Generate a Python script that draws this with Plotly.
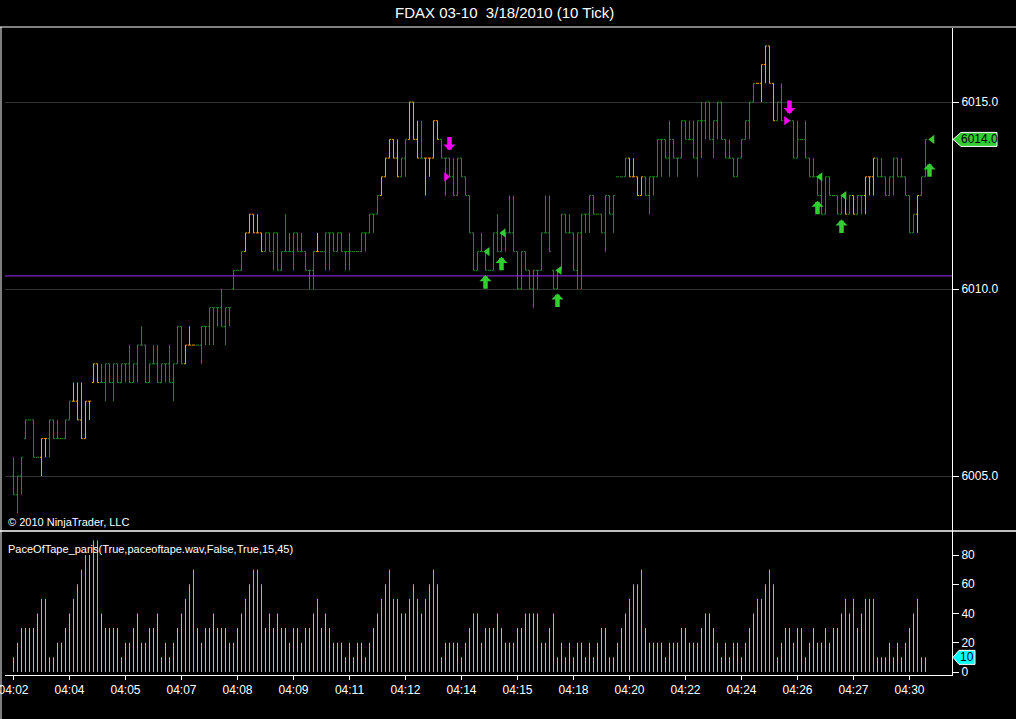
import plotly.graph_objects as go

# FDAX 03-10, 3/18/2010, 10 tick bars (one entry per bar)
opens = [6005.0, 6004.5, 6005.0, 6006.0, 6006.5, 6006.5, 6005.5, 6005.5, 6006.0, 6006.0,
         6006.5, 6006.0, 6006.0, 6006.0, 6006.5, 6007.0, 6007.0, 6006.5, 6006.0, 6007.0,
         6007.5, 6008.0, 6007.5, 6007.5, 6008.0, 6007.5, 6008.0, 6007.5, 6008.0, 6008.0,
         6007.5, 6008.0, 6008.5, 6008.5, 6007.5, 6008.0, 6008.0, 6007.5, 6008.0, 6008.0,
         6007.5, 6008.0, 6009.0, 6008.0, 6008.5, 6008.5, 6008.5, 6008.5, 6009.0, 6009.0,
         6009.5, 6009.5, 6009.5, 6009.0, 6009.5, 6010.0, 6010.5, 6010.5, 6011.0, 6011.5,
         6012.0, 6011.5, 6011.5, 6011.0, 6011.5, 6011.0, 6011.5, 6010.5, 6011.0, 6011.0,
         6011.0, 6011.5, 6011.0, 6011.0, 6010.5, 6010.5, 6011.0, 6011.0, 6011.0, 6011.5,
         6011.5, 6011.0, 6011.5, 6011.0, 6011.0, 6011.0, 6011.0, 6011.0, 6011.5, 6011.5,
         6012.0, 6012.0, 6012.5, 6013.0, 6013.5, 6014.0, 6013.5, 6013.0, 6013.5, 6014.0,
         6015.0, 6014.0, 6013.5, 6013.5, 6013.5, 6013.5, 6014.5, 6014.0, 6013.5, 6013.5,
         6013.0, 6012.5, 6013.5, 6013.0, 6012.5, 6011.5, 6010.5, 6011.0, 6011.0, 6010.5,
         6010.5, 6011.5, 6011.0, 6011.5, 6011.5, 6011.5, 6011.0, 6010.0, 6011.0, 6010.5,
         6010.0, 6010.5, 6010.5, 6011.5, 6011.5, 6010.5, 6010.0, 6010.5, 6012.0, 6011.5,
         6011.5, 6010.5, 6011.5, 6012.0, 6012.0, 6012.5, 6012.0, 6012.0, 6011.5, 6012.5,
         6012.0, 6013.0, 6013.0, 6013.0, 6013.5, 6013.0, 6013.0, 6012.5, 6013.0, 6012.5,
         6013.0, 6013.0, 6014.0, 6014.0, 6013.5, 6014.0, 6013.5, 6013.5, 6014.5, 6014.0,
         6014.0, 6013.5, 6014.5, 6014.5, 6015.0, 6014.0, 6014.5, 6015.0, 6014.0, 6013.5,
         6013.5, 6013.0, 6013.5, 6014.0, 6014.5, 6015.0, 6015.5, 6015.5, 6016.0, 6016.5,
         6015.5, 6014.5, 6015.0, 6014.5, 6014.5, 6014.5, 6013.5, 6014.0, 6014.0, 6013.5,
         6013.0, 6013.0, 6012.5, 6012.0, 6013.0, 6012.5, 6012.5, 6012.0, 6012.5, 6012.0,
         6012.5, 6012.0, 6012.5, 6012.5, 6013.0, 6013.0, 6013.5, 6013.0, 6013.0, 6012.5,
         6013.0, 6013.5, 6013.0, 6013.0, 6012.5, 6011.5, 6012.0, 6012.5, 6013.0]
highs = [6005.5, 6005.0, 6005.5, 6006.5, 6006.5, 6006.5, 6005.5, 6006.0, 6006.0, 6006.5,
         6006.5, 6006.5, 6006.0, 6006.5, 6007.0, 6007.5, 6007.5, 6007.5, 6007.0, 6007.0,
         6008.0, 6008.0, 6008.0, 6008.0, 6008.0, 6008.0, 6008.0, 6008.0, 6008.0, 6008.5,
         6008.0, 6008.5, 6009.0, 6008.5, 6008.0, 6008.5, 6008.5, 6008.0, 6008.0, 6008.5,
         6008.0, 6009.0, 6009.0, 6008.5, 6009.0, 6008.5, 6008.5, 6009.0, 6009.0, 6009.5,
         6009.5, 6009.5, 6010.0, 6009.5, 6009.5, 6010.5, 6010.5, 6011.0, 6011.5, 6012.0,
         6012.0, 6012.0, 6011.5, 6011.5, 6011.5, 6011.5, 6011.5, 6011.0, 6012.0, 6011.5,
         6011.5, 6011.5, 6011.5, 6011.0, 6010.5, 6011.0, 6011.5, 6011.0, 6011.5, 6011.5,
         6011.5, 6011.5, 6011.5, 6011.0, 6011.5, 6011.0, 6011.0, 6011.5, 6011.5, 6012.0,
         6012.0, 6012.5, 6013.0, 6013.5, 6014.0, 6014.0, 6014.0, 6013.5, 6014.0, 6015.0,
         6015.0, 6014.5, 6014.5, 6013.5, 6013.5, 6014.5, 6014.5, 6014.0, 6013.5, 6013.5,
         6013.5, 6013.5, 6013.5, 6013.0, 6012.5, 6011.5, 6011.0, 6011.5, 6011.0, 6010.5,
         6011.5, 6012.0, 6011.5, 6011.5, 6012.5, 6012.5, 6011.0, 6011.0, 6011.0, 6010.5,
         6010.5, 6010.5, 6011.5, 6012.5, 6012.5, 6010.5, 6010.5, 6012.0, 6012.0, 6012.0,
         6011.5, 6011.5, 6012.0, 6012.0, 6012.5, 6012.5, 6012.0, 6012.0, 6012.5, 6012.5,
         6012.5, 6013.0, 6013.0, 6013.5, 6013.5, 6013.5, 6013.0, 6013.0, 6013.0, 6013.0,
         6013.0, 6014.0, 6014.0, 6014.0, 6014.5, 6014.0, 6013.5, 6014.5, 6014.5, 6014.5,
         6014.5, 6014.5, 6015.0, 6015.0, 6015.0, 6014.5, 6015.0, 6015.0, 6014.0, 6014.0,
         6013.5, 6013.5, 6014.0, 6014.5, 6015.0, 6015.5, 6015.5, 6016.0, 6016.5, 6016.5,
         6015.5, 6015.0, 6015.5, 6014.5, 6014.5, 6014.5, 6014.5, 6014.0, 6014.5, 6013.5,
         6013.5, 6013.0, 6013.0, 6013.0, 6013.0, 6012.5, 6012.5, 6012.5, 6012.5, 6012.5,
         6012.5, 6012.5, 6012.5, 6013.0, 6013.0, 6013.5, 6013.5, 6013.5, 6013.0, 6013.0,
         6013.5, 6013.5, 6013.5, 6013.0, 6012.5, 6012.0, 6012.5, 6013.0, 6014.0]
lows = [6004.5, 6004.0, 6004.5, 6006.0, 6006.5, 6005.5, 6005.5, 6005.0, 6005.5, 6005.5,
        6006.0, 6006.0, 6006.0, 6006.0, 6006.5, 6007.0, 6006.5, 6006.0, 6006.0, 6006.5,
        6007.5, 6007.5, 6007.5, 6007.0, 6007.5, 6007.0, 6007.5, 6007.5, 6007.5, 6007.5,
        6007.5, 6007.5, 6008.5, 6007.5, 6007.5, 6008.0, 6007.5, 6007.5, 6007.5, 6007.5,
        6007.0, 6008.0, 6008.0, 6008.0, 6008.5, 6008.5, 6008.5, 6008.0, 6008.5, 6008.5,
        6008.5, 6009.0, 6009.0, 6008.5, 6009.0, 6010.0, 6010.5, 6010.5, 6011.0, 6011.5,
        6011.5, 6011.5, 6011.0, 6011.0, 6011.0, 6010.5, 6010.5, 6010.5, 6011.0, 6011.0,
        6010.5, 6011.0, 6011.0, 6010.5, 6010.0, 6010.0, 6011.0, 6011.0, 6010.5, 6010.5,
        6011.0, 6011.0, 6011.0, 6010.5, 6010.5, 6011.0, 6011.0, 6011.0, 6011.0, 6011.5,
        6011.5, 6012.0, 6012.5, 6013.0, 6013.5, 6013.5, 6013.0, 6013.0, 6013.0, 6014.0,
        6014.0, 6013.5, 6013.5, 6012.5, 6013.0, 6013.5, 6014.0, 6013.5, 6012.5, 6013.0,
        6012.5, 6012.5, 6013.0, 6012.5, 6011.5, 6010.5, 6010.5, 6011.0, 6010.5, 6010.5,
        6010.5, 6011.0, 6011.0, 6011.0, 6011.5, 6011.0, 6010.0, 6010.0, 6010.5, 6010.0,
        6009.5, 6010.0, 6010.5, 6011.5, 6011.0, 6010.0, 6010.0, 6010.5, 6011.5, 6011.5,
        6010.5, 6010.0, 6010.0, 6011.5, 6011.5, 6012.0, 6012.0, 6011.5, 6011.0, 6012.0,
        6011.5, 6013.0, 6013.0, 6013.0, 6013.0, 6013.0, 6012.5, 6012.5, 6012.5, 6012.0,
        6012.5, 6013.0, 6013.0, 6013.5, 6013.0, 6013.5, 6013.0, 6013.5, 6014.0, 6014.0,
        6013.5, 6013.0, 6013.5, 6014.0, 6014.0, 6013.5, 6014.0, 6014.0, 6013.5, 6013.5,
        6013.0, 6013.0, 6013.5, 6014.0, 6014.0, 6015.0, 6015.5, 6015.0, 6015.5, 6015.5,
        6014.5, 6014.5, 6014.5, 6014.5, 6014.5, 6013.5, 6013.5, 6014.0, 6013.5, 6013.0,
        6013.0, 6012.5, 6012.0, 6012.0, 6012.5, 6012.5, 6012.0, 6012.0, 6012.0, 6012.0,
        6012.0, 6012.0, 6012.0, 6012.0, 6012.5, 6012.5, 6013.0, 6013.0, 6012.5, 6012.5,
        6012.5, 6013.0, 6013.0, 6012.5, 6011.5, 6011.5, 6011.5, 6012.5, 6013.0]
closes = [6004.5, 6005.0, 6005.5, 6006.5, 6006.5, 6005.5, 6005.5, 6006.0, 6006.0, 6006.5,
          6006.0, 6006.0, 6006.0, 6006.5, 6007.0, 6007.0, 6006.5, 6006.0, 6007.0, 6007.0,
          6008.0, 6007.5, 6007.5, 6008.0, 6007.5, 6008.0, 6007.5, 6008.0, 6008.0, 6007.5,
          6008.0, 6008.5, 6008.5, 6007.5, 6008.0, 6008.0, 6007.5, 6008.0, 6008.0, 6007.5,
          6008.0, 6009.0, 6008.0, 6008.5, 6008.5, 6008.5, 6008.5, 6009.0, 6009.0, 6009.5,
          6009.5, 6009.5, 6009.0, 6009.5, 6009.5, 6010.5, 6010.5, 6011.0, 6011.5, 6012.0,
          6011.5, 6011.5, 6011.0, 6011.5, 6011.0, 6011.5, 6010.5, 6011.0, 6011.0, 6011.0,
          6011.5, 6011.0, 6011.0, 6010.5, 6010.5, 6011.0, 6011.0, 6011.0, 6011.5, 6011.5,
          6011.0, 6011.5, 6011.0, 6011.0, 6011.0, 6011.0, 6011.0, 6011.5, 6011.5, 6012.0,
          6012.0, 6012.5, 6013.0, 6013.5, 6014.0, 6013.5, 6013.0, 6013.5, 6014.0, 6015.0,
          6014.0, 6013.5, 6013.5, 6013.5, 6013.5, 6014.5, 6014.0, 6013.5, 6013.5, 6013.0,
          6012.5, 6013.5, 6013.0, 6012.5, 6011.5, 6010.5, 6011.0, 6011.0, 6010.5, 6010.5,
          6011.5, 6011.0, 6011.5, 6011.5, 6011.5, 6011.0, 6010.0, 6011.0, 6010.5, 6010.0,
          6010.5, 6010.5, 6011.5, 6011.5, 6011.0, 6010.0, 6010.5, 6012.0, 6011.5, 6011.5,
          6010.5, 6011.5, 6012.0, 6012.0, 6012.5, 6012.0, 6012.0, 6011.5, 6012.5, 6012.0,
          6012.5, 6013.0, 6013.0, 6013.5, 6013.0, 6013.0, 6012.5, 6013.0, 6012.5, 6013.0,
          6013.0, 6014.0, 6014.0, 6013.5, 6014.0, 6013.5, 6013.5, 6014.5, 6014.0, 6014.0,
          6013.5, 6014.5, 6014.5, 6015.0, 6014.0, 6014.5, 6015.0, 6014.0, 6013.5, 6013.5,
          6013.0, 6013.5, 6014.0, 6014.5, 6015.0, 6015.5, 6015.5, 6016.0, 6016.5, 6015.5,
          6014.5, 6015.0, 6014.5, 6014.5, 6014.5, 6013.5, 6014.0, 6014.0, 6013.5, 6013.0,
          6013.0, 6012.5, 6012.0, 6013.0, 6012.5, 6012.5, 6012.0, 6012.5, 6012.0, 6012.5,
          6012.0, 6012.5, 6012.5, 6013.0, 6013.0, 6013.5, 6013.0, 6013.0, 6012.5, 6013.0,
          6013.5, 6013.0, 6013.0, 6012.5, 6011.5, 6012.0, 6012.5, 6013.0, 6014.0]

# PaceOfTape_paris indicator value per bar
pace = [10, 20, 30, 30, 30, 30, 40, 50, 50, 10, 10, 20, 20, 30, 40, 50, 60, 70, 80, 80,
        90, 90, 40, 30, 30, 30, 30, 10, 20, 20, 30, 40, 20, 20, 30, 30, 40, 10, 20, 10,
        20, 30, 40, 50, 60, 70, 30, 20, 30, 30, 40, 30, 30, 30, 20, 20, 30, 40, 50, 60,
        70, 70, 60, 30, 40, 30, 40, 30, 30, 20, 30, 30, 20, 30, 30, 40, 50, 30, 40, 30,
        20, 20, 20, 10, 20, 10, 20, 20, 10, 20, 30, 40, 50, 60, 70, 50, 50, 40, 40, 50,
        60, 50, 40, 50, 60, 70, 60, 10, 20, 20, 20, 20, 10, 20, 30, 40, 40, 20, 30, 30,
        30, 40, 30, 20, 20, 20, 30, 30, 40, 40, 40, 40, 20, 20, 30, 40, 10, 20, 10, 20,
        10, 20, 20, 10, 20, 10, 20, 30, 30, 10, 10, 20, 30, 40, 50, 60, 60, 70, 30, 20,
        20, 20, 20, 10, 20, 20, 20, 30, 30, 20, 20, 20, 30, 40, 40, 30, 20, 10, 20, 10,
        20, 20, 10, 20, 30, 40, 50, 50, 60, 70, 60, 10, 20, 30, 30, 20, 30, 30, 10, 20,
        30, 20, 20, 30, 20, 30, 30, 40, 50, 40, 50, 30, 40, 50, 50, 50, 10, 10, 10, 20,
        10, 20, 10, 20, 30, 40, 50, 10, 10]
pace_threshold = 45

time_labels = ["04:02", "04:04", "04:05", "04:07", "04:08", "04:09", "04:11", "04:12", "04:14",
               "04:15", "04:18", "04:20", "04:22", "04:24", "04:26", "04:27", "04:30"]
label_every = 14

# signal markers (bar index, price)
buy_arrow_x = [118, 122, 136, 201, 207, 229]
buy_arrow_y = [6010.37, 6010.86, 6009.88, 6012.36, 6011.86, 6013.36]
buy_mark_x = [118.5, 122.5, 136.5, 201.7, 207.7, 229.7]
buy_mark_y = [6011.0, 6011.5, 6010.5, 6013.0, 6012.5, 6014.0]
sell_arrow_x = [109, 194]
sell_arrow_y = [6013.70, 6014.68]
sell_mark_x = [108.2, 193.2]
sell_mark_y = [6013.0, 6014.5]
level_line = 6010.35

W, H = 1016, 719
FONT = "Liberation Sans, Arial, sans-serif"
GREEN = "#1f8f1f"
ORANGE = "#ffa500"
CYAN = "#48e8f0"


def px(x):
    return x / W


def py(y):
    return 1 - y / H


n = len(closes)
idx = list(range(n))
fast = [p > pace_threshold for p in pace]

fig = go.Figure()

for flag, color in [(False, GREEN), (True, ORANGE)]:
    sel = [i for i in idx if fast[i] == flag]
    fig.add_trace(go.Ohlc(
        x=sel,
        open=[opens[i] for i in sel],
        high=[highs[i] for i in sel],
        low=[lows[i] for i in sel],
        close=[closes[i] for i in sel],
        increasing=dict(line=dict(color=color, width=1)),
        decreasing=dict(line=dict(color=color, width=1)),
        tickwidth=0.4,
        xaxis="x", yaxis="y",
        hoverinfo="skip",
    ))

fig.add_trace(go.Scatter(
    x=buy_mark_x, y=buy_mark_y, mode="markers",
    marker=dict(symbol="triangle-left", size=8, color="#33cc33"),
    xaxis="x", yaxis="y", hoverinfo="skip",
))
fig.add_trace(go.Scatter(
    x=sell_mark_x, y=sell_mark_y, mode="markers",
    marker=dict(symbol="triangle-right", size=8, color="#ff00ff"),
    xaxis="x", yaxis="y", hoverinfo="skip",
))

# pace histogram: thin vertical stems, one colour per speed state
for flag, color in [(False, CYAN), (True, ORANGE)]:
    xs, ys = [], []
    for i in idx:
        if fast[i] == flag:
            xs += [i, i, None]
            ys += [0, pace[i], None]
    fig.add_trace(go.Scatter(
        x=xs, y=ys, mode="lines", line=dict(color=color, width=1),
        xaxis="x2", yaxis="y2", hoverinfo="skip",
    ))

for x, y in zip(buy_arrow_x, buy_arrow_y):
    fig.add_annotation(x=x, y=y, xref="x", yref="y", text="", showarrow=True,
                       ax=0, ay=15, arrowhead=1, arrowsize=0.45, arrowwidth=4.5,
                       arrowcolor="#33cc33")
for x, y in zip(sell_arrow_x, sell_arrow_y):
    fig.add_annotation(x=x, y=y, xref="x", yref="y", text="", showarrow=True,
                       ax=0, ay=-15, arrowhead=1, arrowsize=0.45, arrowwidth=4.5,
                       arrowcolor="#ff00ff")

# bar i sits on pixel column 13.5 + 4*i, so 1px stems land on whole pixels
xr = [(5 - 13.5) / 4, (952 - 13.5) / 4]
price_range = [6010 - (531 - 289) / 37.4, 6010 + (289 - 28) / 37.4]
pace_range = [-(675 - 672) / 1.4625, (672 - 531) / 1.4625]

axis_font = dict(family=FONT, size=12, color="white")

fig.update_layout(
    template="none",
    width=W, height=H,
    margin=dict(l=0, r=0, t=0, b=0, pad=0),
    paper_bgcolor="black", plot_bgcolor="black",
    showlegend=False, hovermode=False,
    font=dict(family=FONT, color="white"),
    xaxis=dict(domain=[px(5), px(952)], range=xr, showticklabels=False, showgrid=False,
               zeroline=False, ticks="", rangeslider=dict(visible=False), anchor="y",
               automargin=False),
    yaxis=dict(domain=[py(531), py(28)], range=price_range, side="right", anchor="x",
               tickvals=[6005, 6010, 6015], tickformat=".1f", ticks="outside", ticklen=6,
               tickcolor="white", showline=True, linecolor="white", linewidth=1,
               showgrid=True, gridcolor="#333333", gridwidth=1, zeroline=False,
               tickfont=axis_font, automargin=False),
    xaxis2=dict(domain=[px(5), px(952)], range=xr, anchor="y2",
                tickvals=[i * label_every for i in range(len(time_labels))],
                ticktext=time_labels, ticks="outside", ticklen=4, tickcolor="white",
                showline=True, linecolor="white", linewidth=1, showgrid=False,
                zeroline=False, tickfont=axis_font, ticklabeloverflow="allow",
                automargin=False),
    yaxis2=dict(domain=[py(675), py(531)], range=pace_range, side="right", anchor="x2",
                tickvals=[0, 20, 40, 60, 80], ticks="outside", ticklen=6,
                tickcolor="white", showline=True, linecolor="white", linewidth=1,
                showgrid=False, zeroline=False, tickfont=axis_font, automargin=False),
)

# purple level line across the price panel
fig.add_shape(type="line", xref="paper", yref="y", x0=px(5), x1=px(952),
              y0=level_line, y1=level_line, line=dict(color="#9a30f0", width=1))

# frame lines
fig.add_shape(type="line", xref="paper", yref="paper", x0=0, x1=1, y0=py(27), y1=py(27),
              line=dict(color="white", width=1))
fig.add_shape(type="line", xref="paper", yref="paper", x0=0, x1=1, y0=py(531), y1=py(531),
              line=dict(color="white", width=1.5))
fig.add_shape(type="line", xref="paper", yref="paper", x0=px(1), x1=px(1), y0=py(27), y1=0,
              line=dict(color="white", width=1))

# last price marker on the price axis
last = closes[-1]
half = 7 / 37.4
fig.add_shape(type="path", xref="paper", yref="y",
              path=(f"M{px(953)},{last} L{px(961)},{last + half} L{px(997)},{last + half} "
                    f"L{px(997)},{last - half} L{px(961)},{last - half} Z"),
              fillcolor="#33cc33", line=dict(color="white", width=1))
fig.add_annotation(x=px(979), y=last, xref="paper", yref="y", text=f"{last:.1f}",
                   xanchor="center", yanchor="middle", showarrow=False,
                   font=dict(family=FONT, size=12, color="black"))

# last pace marker
lp = pace[-1]
half2 = 7 / 1.4625
fig.add_shape(type="path", xref="paper", yref="y2",
              path=(f"M{px(953)},{lp} L{px(959)},{lp + half2} L{px(975)},{lp + half2} "
                    f"L{px(975)},{lp - half2} L{px(959)},{lp - half2} Z"),
              fillcolor="#00ffff", line=dict(color="white", width=1))
fig.add_annotation(x=px(967), y=lp, xref="paper", yref="y2", text=str(lp),
                   xanchor="center", yanchor="middle", showarrow=False,
                   font=dict(family=FONT, size=12, color="black"))

# texts
fig.add_annotation(x=px(504), y=py(13), xref="paper", yref="paper",
                   xanchor="center", yanchor="middle",
                   text="FDAX 03-10\u00a0 3/18/2010 (10 Tick)", showarrow=False,
                   font=dict(family=FONT, size=15, color="white"))
fig.add_annotation(x=px(6), y=py(522), xref="paper", yref="paper", xanchor="left",
                   yanchor="middle", text="\u00a9 2010 NinjaTrader, LLC", showarrow=False,
                   font=dict(family=FONT, size=11, color="white"))
fig.add_annotation(x=px(6), y=py(549), xref="paper", yref="paper", xanchor="left",
                   yanchor="middle",
                   text="PaceOfTape_paris(True,paceoftape.wav,False,True,15,45)",
                   showarrow=False, font=dict(family=FONT, size=11, color="white"))

fig.write_html("out.html", config={"displayModeBar": False},
               post_script="document.body.style.margin='0';")
